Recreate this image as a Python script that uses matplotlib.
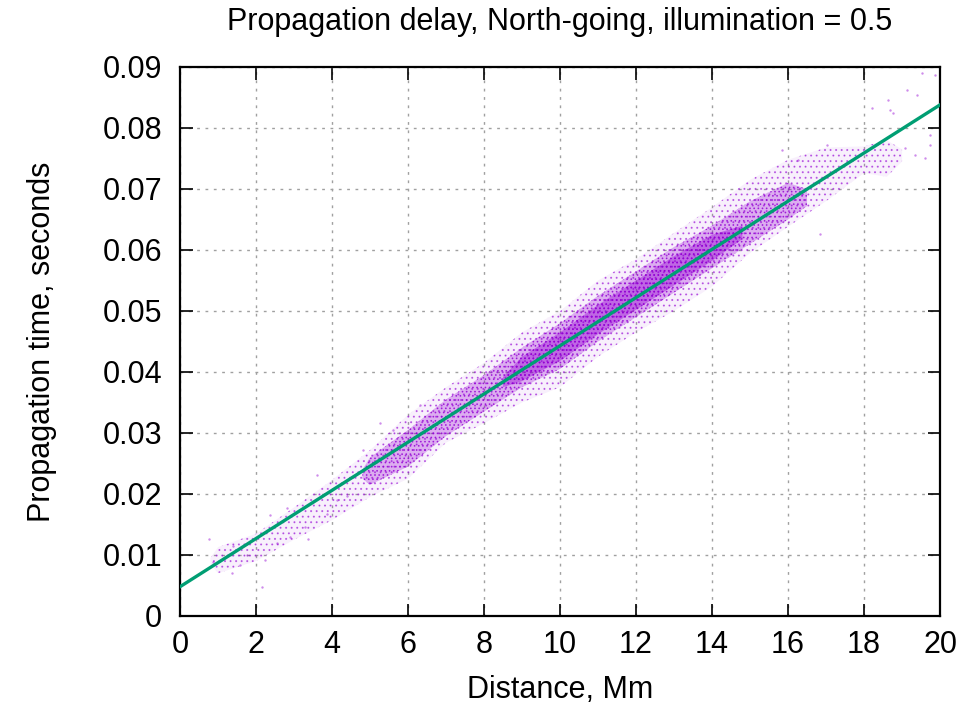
import matplotlib.pyplot as plt

plt.rcParams["font.family"] = ["Liberation Sans", "DejaVu Sans"]
plt.rcParams["hatch.linewidth"] = 0.7

PURPLE = "#9400d3"
TEAL = "#009e73"

# cloud envelope, per distance (Mm)
dist = [0.8, 1, 2, 3, 4, 5, 6, 7, 8, 9, 10, 11, 12, 13, 14, 15, 16, 17, 18, 18.6, 19.0]
outer_lo = [0.0085, 0.0070, 0.0090, 0.0125, 0.0157, 0.0195, 0.0225, 0.0284, 0.0316, 0.0350,
            0.0375, 0.0425, 0.0465, 0.0500, 0.0540, 0.0595, 0.0638, 0.0680, 0.0726, 0.0720, 0.0745]
outer_hi = [0.0095, 0.0113, 0.0135, 0.0178, 0.0223, 0.0272, 0.0330, 0.0375, 0.0415, 0.0465,
            0.0500, 0.0550, 0.0585, 0.0628, 0.0670, 0.0715, 0.0748, 0.0768, 0.0770, 0.0780, 0.0765]

core_dist = [4.8, 5, 6, 7, 8, 9, 10, 11, 12, 13, 14, 15, 16, 16.5]
core_lo = [0.0225, 0.0215, 0.0245, 0.0295, 0.0335, 0.0375, 0.0405, 0.0450, 0.0490, 0.0530,
           0.0570, 0.0610, 0.0650, 0.0672]
core_hi = [0.0240, 0.0260, 0.0305, 0.0355, 0.0395, 0.0440, 0.0480, 0.0525, 0.0565, 0.0605,
           0.0640, 0.0680, 0.0710, 0.0700]

dense_dist = [8.5, 9, 10, 11, 12, 13, 14, 14.8]
dense_lo = [0.0375, 0.0385, 0.0418, 0.0462, 0.0502, 0.0542, 0.0582, 0.0618]
dense_hi = [0.0392, 0.0425, 0.0465, 0.0510, 0.0550, 0.0590, 0.0625, 0.0640]

# isolated points outside the bands
out_d = [0.77, 0.88, 1.36, 1.40, 1.58, 1.75, 2.24, 2.15, 2.37, 2.54, 2.81, 2.89, 3.29, 3.38,
         3.60, 3.86, 4.12, 4.39, 4.56, 4.82, 5.26, 5.61, 6.32, 16.84, 15.83, 16.27, 17.02,
         18.20, 18.64, 18.68, 18.75, 19.12, 19.39, 19.52, 19.87, 19.08, 19.34, 19.61, 19.73, 19.73]
out_t = [0.0126, 0.0089, 0.0071, 0.0114, 0.0083, 0.0100, 0.0092, 0.0048, 0.0166, 0.0119,
         0.0177, 0.0129, 0.0146, 0.0127, 0.0231, 0.0168, 0.0190, 0.0196, 0.0228, 0.0272,
         0.0316, 0.0305, 0.0346, 0.0627, 0.0764, 0.0748, 0.0772, 0.0832, 0.0846, 0.0830,
         0.0824, 0.0862, 0.0854, 0.0890, 0.0887, 0.0767, 0.0756, 0.0750, 0.0789, 0.0772]

# least-squares fit line end points
fit_d = [0, 20]
fit_t = [0.0048, 0.0838]

fig = plt.figure(figsize=(9.79, 7.06), dpi=100)
ax = fig.add_axes([0.1839, 0.1275, 0.9602 - 0.1839, 0.9051 - 0.1275])

ax.fill_between(dist, outer_lo, outer_hi, facecolor=(0.58, 0.0, 0.83, 0.06),
                edgecolor=(0.58, 0.0, 0.83, 0.5), hatch="...", linewidth=0, zorder=2)
ax.fill_between(core_dist, core_lo, core_hi, facecolor=(0.58, 0.0, 0.83, 0.28),
                edgecolor=(0.58, 0.0, 0.83, 0.75), hatch="....", linewidth=0, zorder=3)
ax.fill_between(dense_dist, dense_lo, dense_hi, facecolor=(0.58, 0.0, 0.83, 0.4),
                edgecolor=(0.58, 0.0, 0.83, 0.85), hatch="....", linewidth=0, zorder=3)
ax.scatter(out_d, out_t, s=3, color=PURPLE, alpha=0.45, linewidths=0, zorder=3)

ax.plot(fit_d, fit_t, color=TEAL, lw=2.4, zorder=4)

ax.set_xlim(0, 20)
ax.set_ylim(0, 0.09)
ax.set_xticks(range(0, 21, 2))
ax.set_yticks([i / 100 for i in range(10)])
ax.set_yticklabels(["0"] + [f"0.0{i}" for i in range(1, 10)])

ax.grid(True, color="#a0a0a0", linestyle=(0, (2, 4)), linewidth=1.0, zorder=1)
ax.set_axisbelow(True)
for s in ax.spines.values():
    s.set_linewidth(1.6)
ax.tick_params(direction="in", length=9, width=1.2, top=True, right=True,
               labelsize=22)
ax.tick_params(axis="y", pad=13)
ax.tick_params(axis="x", pad=10)

ax.text(0.5, 1.082, "Propagation delay, North-going, illumination = 0.5", fontsize=22,
        ha="center", va="center", transform=ax.transAxes)
ax.set_xlabel("Distance, Mm", fontsize=22)
ax.set_ylabel("Propagation time, seconds", fontsize=22)
ax.xaxis.set_label_coords(0.5, -0.135)
ax.yaxis.set_label_coords(-0.1816, 0.5)
ax.xaxis.label.set_va("center")
ax.yaxis.label.set_va("center")

fig.savefig("out.png", dpi=100)
